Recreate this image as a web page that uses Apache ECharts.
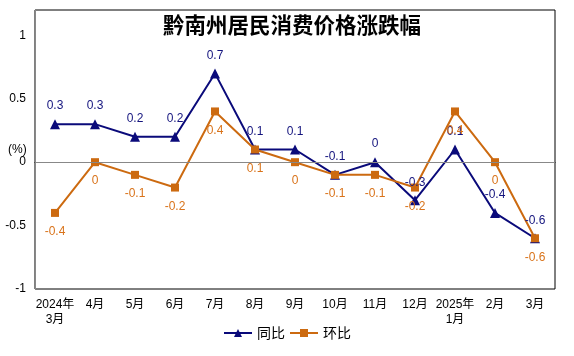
<!DOCTYPE html>
<html><head><meta charset="utf-8">
<script src="https://cdn.jsdelivr.net/npm/echarts@6/dist/echarts.min.js"></script>
<style>html,body{margin:0;padding:0;background:#fff}#c{width:574px;height:356px}</style>
</head><body><div id="c"></div>
<script>
var categories = ['2024年\n3月','4月','5月','6月','7月','8月','9月','10月','11月','12月','2025年\n1月','2月','3月'];
var yoy = [0.3, 0.3, 0.2, 0.2, 0.7, 0.1, 0.1, -0.1, 0, -0.3, 0.1, -0.4, -0.6];
var mom = [-0.4, 0, -0.1, -0.2, 0.4, 0.1, 0, -0.1, -0.1, -0.2, 0.4, 0, -0.6];
var titleText = '黔南州居民消费价格涨跌幅';
var FF = "'Liberation Sans','Noto Sans CJK SC',sans-serif";
var chart = echarts.init(document.getElementById('c'));
chart.setOption({
  animation: false,
  textStyle: {fontFamily: FF},
  title: {text: titleText, left: 287, textAlign: 'center', top: 9,
    textStyle: {fontSize: 21.5, fontWeight: 'bold', color: '#000', fontFamily: "'Noto Sans CJK SC',sans-serif"}},
  graphic: [{type: 'text', left: 8, top: 144, style: {text: '(%)', fontSize: 12, fill: '#000', fontFamily: FF}}],
  grid: {left: 35, right: 19, top: 10, bottom: 67, show: true, borderColor: '#000', borderWidth: 1},
  legend: {bottom: 11, left: 'center', itemWidth: 28, itemHeight: 10, itemGap: 4,
    textStyle: {fontSize: 14, color: '#000', fontFamily: "'Noto Sans CJK SC',sans-serif"}, data: ['同比','环比']},
  xAxis: {type: 'category', data: categories, boundaryGap: true,
    axisLine: {lineStyle: {color: '#000'}}, axisTick: {show: false},
    axisLabel: {fontSize: 12, color: '#000', margin: 8, interval: 0, lineHeight: 15}},
  yAxis: {type: 'value', min: -1, max: 1.2, interval: 0.5,
    axisLine: {show: true, lineStyle: {color: '#888'}}, axisTick: {show: false},
    splitLine: {show: false},
    axisLabel: {fontSize: 12, color: '#000', margin: 9, showMaxLabel: false}},
  series: [
    {name: '同比', type: 'line', data: yoy, symbol: 'triangle', symbolSize: 10,
      lineStyle: {color: '#0a0a7a', width: 2}, itemStyle: {color: '#0a0a7a'},
      label: {show: true, position: 'top', distance: 7, fontSize: 12, color: '#14147e'},
      markLine: {silent: true, symbol: 'none', label: {show: false},
        lineStyle: {color: '#888', type: 'solid', width: 1}, data: [{yAxis: 0}]}},
    {name: '环比', type: 'line', data: mom, symbol: 'rect', symbolSize: 8,
      lineStyle: {color: '#cc6a10', width: 2}, itemStyle: {color: '#cc6a10'},
      label: {show: true, position: 'bottom', distance: 9, fontSize: 12, color: '#d9731a'}}
  ]
});
</script></body></html>
